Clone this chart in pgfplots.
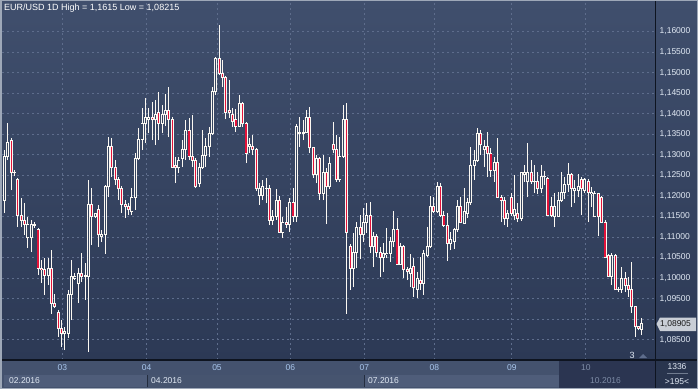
\documentclass[border=0pt]{standalone}
\usepackage{fontspec}
\setmainfont{Liberation Sans}
\usepackage{pgfplots}
\usepackage{pgfplotstable}
\pgfplotsset{compat=1.18}
\definecolor{bgtop}{HTML}{404F6D}
\definecolor{bgbot}{HTML}{2C3955}
\definecolor{bodyin}{HTML}{37455F}
\definecolor{candlered}{HTML}{E3123A}
\definecolor{candlewhite}{HTML}{FBF8F2}
\definecolor{gridc}{HTML}{5E6D8C}
\definecolor{ticklab}{HTML}{E2EAF5}
\definecolor{monthlab}{HTML}{A9C6EC}
\definecolor{monthdim}{HTML}{7E8CA6}
\definecolor{rowbg}{HTML}{44526E}
\definecolor{segA}{HTML}{4F5D7A}
\definecolor{segB}{HTML}{46546F}
\definecolor{darkzone}{HTML}{2B3551}
\definecolor{sepline}{HTML}{0E1420}
\definecolor{frame}{HTML}{9EA8B8}
\definecolor{pricebox}{HTML}{C9CED6}

\pgfplotstableread{
i o h l c
0 1.1190 1.1312 1.1158 1.1295
1 1.1295 1.1377 1.1287 1.1329
2 1.1336 1.1341 1.1214 1.1256
3 1.1258 1.1263 1.1248 1.1256
4 1.1241 1.1243 1.1124 1.1153
5 1.1153 1.1195 1.1124 1.1141
6 1.1141 1.1183 1.1105 1.1131
7 1.1098 1.1149 1.1073 1.1131
8 1.1098 1.1141 1.1063 1.1131
9 1.1129 1.1136 1.1122 1.1131
10 1.1117 1.1122 1.1007 1.1024
11 1.1024 1.1044 1.0988 1.1020
12 1.1020 1.1049 1.0959 1.1007
13 1.1007 1.1049 1.0983 1.1024
14 1.1024 1.1068 1.0913 1.0939
15 1.0939 1.0961 1.0927 1.0932
16 1.0917 1.0922 1.0857 1.0878
17 1.0878 1.0898 1.0832 1.0866
18 1.0866 1.0881 1.0825 1.0871
19 1.0866 1.0971 1.0854 1.0961
20 1.0961 1.1044 1.0898 1.1003
21 1.1000 1.1012 1.0995 1.1003
22 1.0988 1.1024 1.0939 1.1012
23 1.1012 1.1061 1.0990 1.1005
24 1.1005 1.1037 1.0947 1.1007
25 1.1005 1.1239 1.0820 1.1180
26 1.1180 1.1219 1.1080 1.1151
27 1.1149 1.1158 1.1146 1.1156
28 1.1166 1.1178 1.1076 1.1105
29 1.1100 1.1117 1.1088 1.1107
30 1.1107 1.1227 1.1059 1.1222
31 1.1222 1.1343 1.1197 1.1319
32 1.1319 1.1341 1.1246 1.1270
33 1.1270 1.1287 1.1227 1.1241
34 1.1241 1.1246 1.1190 1.1217
35 1.1217 1.1224 1.1158 1.1180
36 1.1180 1.1190 1.1146 1.1173
37 1.1175 1.1183 1.1153 1.1166
38 1.1161 1.1219 1.1153 1.1195
39 1.1195 1.1304 1.1166 1.1292
40 1.1292 1.1365 1.1287 1.1338
41 1.1338 1.1414 1.1312 1.1377
42 1.1377 1.1438 1.1329 1.1392
43 1.1385 1.1414 1.1353 1.1392
44 1.1392 1.1428 1.1336 1.1385
45 1.1385 1.1433 1.1324 1.1397
46 1.1402 1.1453 1.1336 1.1377
47 1.1377 1.1421 1.1353 1.1399
48 1.1397 1.1448 1.1370 1.1409
49 1.1409 1.1465 1.1343 1.1387
50 1.1387 1.1392 1.1268 1.1270
51 1.1273 1.1295 1.1231 1.1268
52 1.1268 1.1295 1.1256 1.1287
53 1.1292 1.1336 1.1270 1.1314
54 1.1314 1.1385 1.1287 1.1360
55 1.1360 1.1390 1.1287 1.1295
56 1.1295 1.1397 1.1270 1.1287
57 1.1287 1.1292 1.1219 1.1222
58 1.1231 1.1280 1.1222 1.1268
59 1.1268 1.1360 1.1265 1.1299
60 1.1299 1.1341 1.1270 1.1319
61 1.1319 1.1368 1.1295 1.1353
62 1.1353 1.1465 1.1348 1.1453
63 1.1453 1.1538 1.1446 1.1535
64 1.1535 1.1615 1.1494 1.1497
65 1.1499 1.1531 1.1465 1.1489
66 1.1489 1.1492 1.1387 1.1404
67 1.1407 1.1482 1.1390 1.1402
68 1.1397 1.1414 1.1368 1.1380
69 1.1385 1.1411 1.1355 1.1370
70 1.1370 1.1445 1.1368 1.1426
71 1.1426 1.1428 1.1368 1.1375
72 1.1375 1.1380 1.1280 1.1304
73 1.1321 1.1341 1.1304 1.1324
74 1.1321 1.1348 1.1299 1.1314
75 1.1314 1.1317 1.1212 1.1217
76 1.1202 1.1231 1.1178 1.1217
77 1.1202 1.1239 1.1190 1.1222
78 1.1217 1.1243 1.1183 1.1219
79 1.1219 1.1227 1.1129 1.1141
80 1.1141 1.1166 1.1129 1.1151
81 1.1151 1.1217 1.1141 1.1190
82 1.1190 1.1200 1.1110 1.1112
83 1.1112 1.1149 1.1097 1.1136
84 1.1136 1.1173 1.1122 1.1131
85 1.1131 1.1195 1.1112 1.1185
86 1.1185 1.1219 1.1136 1.1149
87 1.1149 1.1375 1.1136 1.1368
88 1.1353 1.1392 1.1319 1.1355
89 1.1353 1.1385 1.1336 1.1355
90 1.1355 1.1409 1.1353 1.1392
91 1.1392 1.1416 1.1304 1.1317
92 1.1317 1.1319 1.1243 1.1251
93 1.1251 1.1299 1.1231 1.1292
94 1.1292 1.1295 1.1190 1.1207
95 1.1207 1.1299 1.1190 1.1258
96 1.1258 1.1268 1.1131 1.1222
97 1.1222 1.1295 1.1217 1.1278
98 1.1324 1.1380 1.1304 1.1312
99 1.1312 1.1348 1.1234 1.1241
100 1.1241 1.1343 1.1234 1.1297
101 1.1297 1.1421 1.1292 1.1385
102 1.1385 1.1426 1.0913 1.1112
103 1.1076 1.1083 1.0971 1.1024
104 1.1024 1.1110 1.0978 1.1063
105 1.1063 1.1136 1.1024 1.1124
106 1.1124 1.1153 1.1046 1.1105
107 1.1105 1.1170 1.1088 1.1136
108 1.1136 1.1183 1.1110 1.1153
109 1.1153 1.1185 1.1061 1.1076
110 1.1076 1.1112 1.1027 1.1100
111 1.1100 1.1107 1.1051 1.1063
112 1.1063 1.1076 1.1003 1.1049
113 1.1049 1.1085 1.1015 1.1061
114 1.1058 1.1122 1.1049 1.1061
115 1.1061 1.1100 1.1039 1.1088
116 1.1088 1.1163 1.1076 1.1119
117 1.1119 1.1146 1.1032 1.1034
118 1.1034 1.1085 1.1032 1.1076
119 1.1076 1.1080 1.1000 1.1020
120 1.1022 1.1027 1.0995 1.1015
121 1.1012 1.1058 1.0978 1.1024
122 1.1027 1.1049 1.0954 1.0976
123 1.0973 1.1015 1.0951 1.0998
124 1.0995 1.1051 1.0971 1.0988
125 1.0988 1.1068 1.0959 1.1061
126 1.1056 1.1124 1.1051 1.1076
127 1.1076 1.1200 1.1073 1.1173
128 1.1173 1.1197 1.1158 1.1163
129 1.1161 1.1234 1.1158 1.1222
130 1.1222 1.1231 1.1149 1.1153
131 1.1153 1.1163 1.1124 1.1129
132 1.1129 1.1158 1.1042 1.1085
133 1.1085 1.1112 1.1068 1.1093
134 1.1088 1.1122 1.1071 1.1117
135 1.1117 1.1190 1.1112 1.1173
136 1.1173 1.1197 1.1134 1.1136
137 1.1134 1.1219 1.1131 1.1161
138 1.1158 1.1195 1.1146 1.1183
139 1.1183 1.1319 1.1178 1.1275
140 1.1275 1.1312 1.1239 1.1287
141 1.1287 1.1365 1.1282 1.1353
142 1.1353 1.1360 1.1299 1.1324
143 1.1314 1.1336 1.1270 1.1319
144 1.1319 1.1356 1.1246 1.1304
145 1.1304 1.1317 1.1246 1.1263
146 1.1263 1.1295 1.1234 1.1282
147 1.1282 1.1341 1.1195 1.1197
148 1.1195 1.1202 1.1136 1.1188
149 1.1188 1.1197 1.1129 1.1146
150 1.1146 1.1166 1.1124 1.1156
151 1.1197 1.1207 1.1151 1.1158
152 1.1153 1.1251 1.1141 1.1166
153 1.1156 1.1183 1.1136 1.1146
154 1.1146 1.1258 1.1139 1.1256
155 1.1253 1.1275 1.1234 1.1258
156 1.1234 1.1329 1.1197 1.1258
157 1.1258 1.1287 1.1229 1.1234
158 1.1234 1.1275 1.1207 1.1236
159 1.1234 1.1258 1.1205 1.1219
160 1.1217 1.1275 1.1207 1.1248
161 1.1246 1.1261 1.1227 1.1248
162 1.1243 1.1246 1.1151 1.1153
163 1.1173 1.1197 1.1149 1.1153
164 1.1151 1.1207 1.1124 1.1173
165 1.1151 1.1209 1.1149 1.1190
166 1.1190 1.1258 1.1185 1.1209
167 1.1209 1.1246 1.1192 1.1227
168 1.1227 1.1280 1.1209 1.1253
169 1.1253 1.1256 1.1173 1.1219
170 1.1212 1.1239 1.1183 1.1219
171 1.1214 1.1253 1.1197 1.1222
172 1.1239 1.1246 1.1153 1.1219
173 1.1214 1.1243 1.1207 1.1239
174 1.1236 1.1241 1.1136 1.1209
175 1.1205 1.1222 1.1173 1.1209
176 1.1149 1.1212 1.1149 1.1205
177 1.1205 1.1207 1.1102 1.1149
178 1.1195 1.1200 1.1136 1.1136
179 1.1136 1.1141 1.1051 1.1051
180 1.1056 1.1058 1.1003 1.1005
181 1.1005 1.1061 1.0983 1.1056
182 1.1056 1.1058 1.0971 1.0971
183 1.0971 1.0978 1.0966 1.0973
184 1.0971 1.1027 1.0964 1.1000
185 1.1000 1.1015 1.0966 1.0983
186 1.0983 1.1003 1.0954 1.0973
187 1.0973 1.1039 1.0915 1.0930
188 1.0930 1.0932 1.0857 1.0881
189 1.0881 1.0881 1.0873 1.0878
190 1.0876 1.0903 1.0861 1.08905
}\candles

\begin{document}
\begin{tikzpicture}[x=1pt,y=1pt]
\path[use as bounding box] (0,0) rectangle (698,389);
% backgrounds
\fill[top color=bgtop, bottom color=bgbot] (0,29) rectangle (698,389);
\fill[rowbg] (0,0) rectangle (655,29);
\fill[segA] (4,2) rectangle (147,14);
\fill[segB] (147,2) rectangle (364,14);
\fill[segA] (364,2) rectangle (559,14);
\draw[sepline!60!rowbg, line width=0.6pt] (147,2) -- (147,14) (364,2) -- (364,14);
\fill[darkzone] (559,0) rectangle (655,29);
\fill[bgbot!92!black] (656,0) rectangle (698,29);
\node[anchor=west, inner sep=0pt, text=ticklab, font=\fontsize{8.5}{10}\selectfont] at (9,8) {02.2016};
\node[anchor=west, inner sep=0pt, text=ticklab, font=\fontsize{8.5}{10}\selectfont] at (151,8) {04.2016};
\node[anchor=west, inner sep=0pt, text=ticklab, font=\fontsize{8.5}{10}\selectfont] at (368,8) {07.2016};
\node[anchor=west, inner sep=0pt, text=monthdim, font=\fontsize{8.5}{10}\selectfont] at (590,8) {10.2016};

\begin{axis}[
  at={(2pt,29pt)}, anchor=south west,
  scale only axis, width=653pt, height=359pt,
  xmin=-0.745, xmax=193.9, ymin=1.08006, ymax=1.16743,
  axis line style={draw=none},
  major tick length=0pt,
  grid=major,
  major grid style={gridc, line width=0.8pt, dash pattern=on 2pt off 3pt},
  xtick={17.23,42.39,63.34,85.19,107.24,128.1,151.2,173.3},
  xticklabels={03,04,05,06,07,08,09,\textcolor{monthdim}{10}},
  xticklabel style={anchor=north, inner sep=0pt, yshift=-4.5pt, text=monthlab, font=\fontsize{8.5}{10}\selectfont},
  ytick={1.085,1.09,1.095,1.1,1.105,1.11,1.115,1.12,1.125,1.13,1.135,1.14,1.145,1.15,1.155,1.16},
  yticklabels={{1,08500},{},{1,09500},{1,10000},{1,10500},{1,11000},{1,11500},{1,12000},{1,12500},{1,13000},{1,13500},{1,14000},{1,14500},{1,15000},{1,15500},{1,16000}},
  yticklabel pos=right,
  yticklabel style={anchor=west, inner sep=0pt, xshift=4.5pt, text=ticklab, font=\fontsize{8.5}{10}\selectfont},
  unbounded coords=discard,
]
% wicks
\addplot[draw=none, mark=none, forget plot,
  error bars/.cd, y dir=plus, y explicit, error mark=none,
  error bar style={draw=candlewhite, line width=1pt}]
  table[x=i, y=l, y error expr=\thisrow{h}-\thisrow{l}] {\candles};
% body outlines
\addplot[draw=none, mark=none, forget plot,
  error bars/.cd, y dir=plus, y explicit, error mark=none,
  error bar style={draw=candlewhite, line width=3pt}]
  table[x=i, y expr={min(\thisrow{o},\thisrow{c})-0.0001217}, y error expr={abs(\thisrow{c}-\thisrow{o})+0.0002434}] {\candles};
% bearish fill
\addplot[draw=none, mark=none, forget plot,
  error bars/.cd, y dir=plus, y explicit, error mark=none,
  error bar style={draw=candlered, line width=1.1pt}]
  table[x=i, y expr={(\thisrow{c}<\thisrow{o}) ? (\thisrow{c}+0.0001217) : nan}, y error expr={max(\thisrow{o}-\thisrow{c}-0.0002434,0)}] {\candles};
% bullish hollow interior
\addplot[draw=none, mark=none, forget plot,
  error bars/.cd, y dir=plus, y explicit, error mark=none,
  error bar style={draw=bodyin, line width=1.1pt}]
  table[x=i, y expr={(\thisrow{c}>\thisrow{o}) ? (\thisrow{o}+0.0001217) : nan}, y error expr={max(\thisrow{c}-\thisrow{o}-0.0002434,0)}] {\candles};
\end{axis}

% separators
\draw[sepline, line width=1.2pt] (655.6,0) -- (655.6,389);
\draw[sepline, line width=1.2pt] (0,29) -- (698,29);
% right bottom info
\node[text=ticklab, inner sep=0pt, font=\fontsize{8.5}{10}\selectfont] at (677,22) {1336};
\draw[frame!60!bgbot, line width=0.7pt] (667,16) -- (688,16);
\node[text=ticklab, inner sep=0pt, font=\fontsize{8.5}{10}\selectfont] at (677,7.5) {>195<};
% small marker
\node[text=ticklab, inner sep=0pt, font=\fontsize{9}{10}\selectfont] at (632,33.5) {3};
\fill[gridc] (639,31) -- (647,31) -- (643,35) -- cycle;
% price label
\fill[pricebox] (656.5,65) -- (660,71.5) -- (696,71.5) -- (696,58) -- (660,58) -- cycle;
\node[anchor=west, inner sep=0pt, text=black!90, font=\fontsize{8.5}{10}\selectfont] at (660,64.5) {1,08905};
% title
\node[anchor=west, inner sep=0pt, text=white, font=\fontsize{9}{10}\selectfont] at (4,381) {EUR/USD 1D High = 1,1615 Low = 1,08215};
% frame
\draw[frame, line width=1.5pt] (0.75,0.75) rectangle (697.25,388.25);
\end{tikzpicture}
\end{document}
